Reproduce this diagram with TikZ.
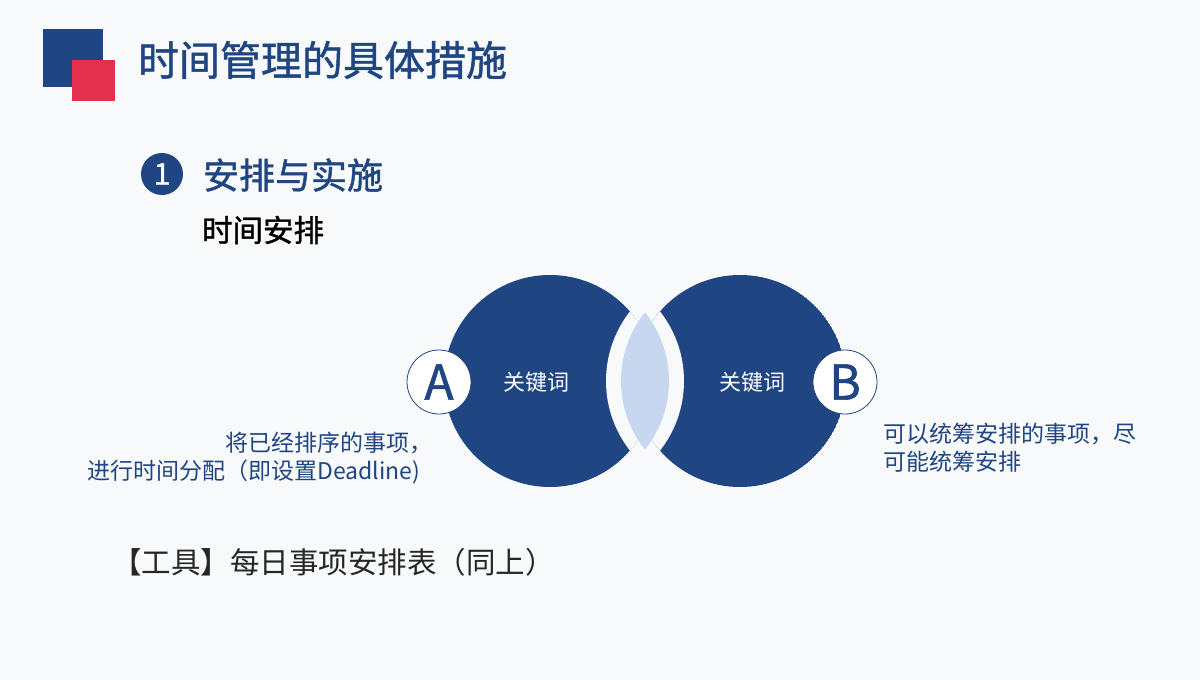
\documentclass[tikz,border=0pt]{standalone}
\usepackage{fontspec}
\setmainfont{Noto Sans CJK SC}
\newfontfamily\heavy[FakeBold=1.2]{Noto Sans CJK SC}
\usetikzlibrary{positioning}

\definecolor{navy}{HTML}{1F4582}
\definecolor{rose}{HTML}{E4304D}
\definecolor{paper}{HTML}{F8F9FB}
\definecolor{mist}{HTML}{C6D7EF}
\definecolor{ink}{HTML}{262626}

\begin{document}
\begin{tikzpicture}[x=1pt,y=-1pt] % PLAN
\tikzset{%
  inner sep=0pt,%
  outer sep=0pt,%
  title text/.style={anchor=west,text=navy,font=\heavy\fontsize{41}{48}\selectfont},%
  head text/.style={anchor=west,text=navy,font=\heavy\fontsize{36}{42}\selectfont},%
  plain text/.style={anchor=west,text=black,font=\heavy\fontsize{30.5}{36}\selectfont},%
  note text/.style={text=navy,font=\fontsize{23}{28}\selectfont},%
  tool text/.style={anchor=west,text=ink,font=\fontsize{29.5}{34}\selectfont},%
  keyword/.style={text=white,font=\fontsize{22}{26}\selectfont},%
  num dot/.style={circle,fill=navy,minimum size=42pt,text=white,
    font=\heavy\fontsize{30}{34}\selectfont},%
  badge/.style={circle,fill=white,draw=navy,line width=0.8pt,minimum size=64pt,
    text=navy,font=\heavy\fontsize{48}{54}\selectfont}%
}
%% some definitions

\def\R{106} % radius of the two big discs
\def\Rcut{113} % radius of the white cut
\def\Rlens{110} % radius of the lens arcs
\def\cy{381} % centre line of the discs

%% page

\fill[paper] (0,0) rectangle (1200,680);
\useasboundingbox (0,0) rectangle (1200,680);

%% header

\fill[navy] (43,29) rectangle (103,87);
\fill[rose] (72,60) rectangle (115,101);
\node[title text] (title) at (138,60) {时间管理的具体措施};

\node[num dot] (one) at (162,174) {1};
\node[head text] (head) at (203,175) {安排与实施};
\node[plain text] (plan) at (202,230) {时间安排};

%% discs with the white cut between them

\begin{scope}
  \clip (550,\cy) circle (\R);
  \fill[navy] (550,\cy) circle (\R);
  \fill[paper] (719,\cy) circle (\Rcut);
\end{scope}
\begin{scope}
  \clip (740,\cy) circle (\R);
  \fill[navy] (740,\cy) circle (\R);
  \fill[paper] (571,\cy) circle (\Rcut);
\end{scope}

%% lens in the middle

\begin{scope}
  \clip (559,\cy) circle (\Rlens);
  \fill[mist] (731,\cy) circle (\Rlens);
\end{scope}

%% labels on the discs

\node[keyword] (kwA) at (536,382) {关键词};
\node[keyword] (kwB) at (752,382) {关键词};
\node[badge] (A) at (439,382) {A};
\node[badge] (B) at (845,382) {B};

%% notes

\node[note text,anchor=east,align=right] (noteA) at (420,458)
  {将已经排序的事项\makebox[0.45em][l]{，}\\进行时间分配（即设置Deadline)};
\node[note text,anchor=west,align=left] (noteB) at (883,448)
  {可以统筹安排的事项，尽\\可能统筹安排};

\node[tool text] (tool) at (112,562) {【工具】每日事项安排表（同上）};
\end{tikzpicture}
\end{document}
